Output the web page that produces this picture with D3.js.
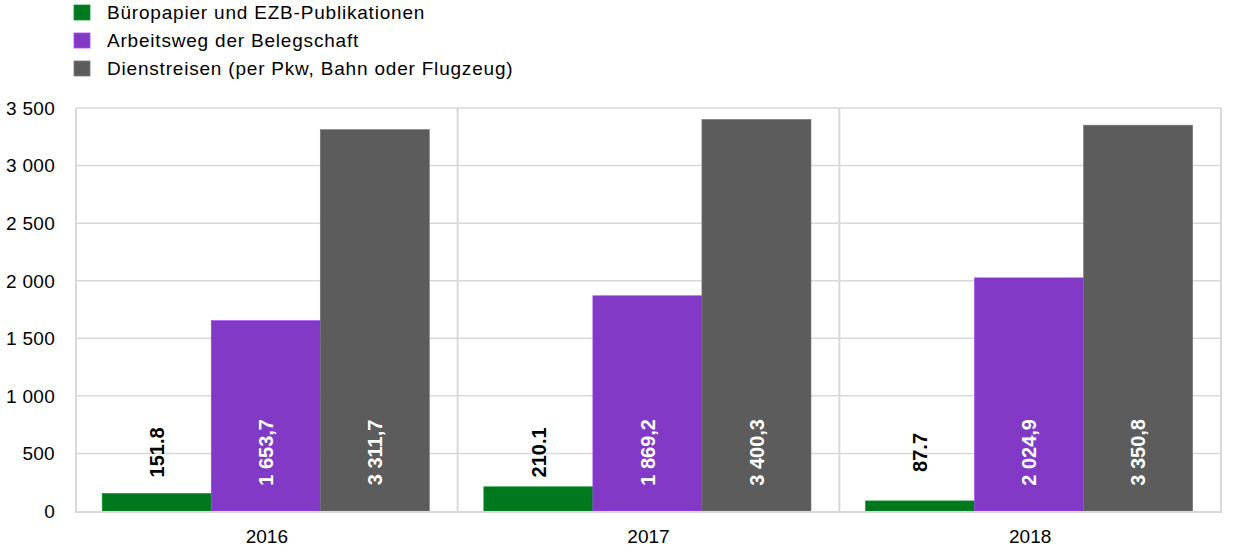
<!DOCTYPE html>
<html><head><meta charset="utf-8">
<script src="https://cdn.jsdelivr.net/npm/d3@7"></script>
<style>
html,body{margin:0;padding:0;background:#fff;}
svg{display:block;font-family:"Liberation Sans",Arial,sans-serif;}
</style></head>
<body><svg id="c" width="1240" height="556"></svg>
<script>
const years = ["2016", "2017", "2018"];
const seriesNames = ["Büropapier und EZB-Publikationen", "Arbeitsweg der Belegschaft", "Dienstreisen (per Pkw, Bahn oder Flugzeug)"];
const seriesColors = ["#00781e", "#8139c6", "#5c5c5c"];
const paper = [151.8, 210.1, 87.7];
const commute = [1653.7, 1869.2, 2024.9];
const travel = [3311.7, 3400.3, 3350.8];
const paperLabels = ["151.8", "210.1", "87.7"];
const commuteLabels = ["1 653,7", "1 869,2", "2 024,9"];
const travelLabels = ["3 311,7", "3 400,3", "3 350,8"];
const yTicks = [0, 500, 1000, 1500, 2000, 2500, 3000, 3500];
const yTickLabels = ["0", "500", "1 000", "1 500", "2 000", "2 500", "3 000", "3 500"];

const svg = d3.select("#c");
const L = 76, R = 1221, T = 108, B = 511;
const x0 = d3.scaleBand().domain(years).range([L, R]).padding(0);
const x1 = d3.scaleBand().domain([0,1,2]).range([0, x0.bandwidth()]).paddingInner(0).paddingOuter(0.25).align(0.48);
const y = d3.scaleLinear().domain([0, 3500]).range([B, T]);

const series = [paper, commute, travel];
const labels = [paperLabels, commuteLabels, travelLabels];

// gridlines
svg.append("g").selectAll("line").data(yTicks.slice(1)).join("line")
  .attr("x1", L).attr("x2", R).attr("y1", d => y(d)).attr("y2", d => y(d))
  .attr("stroke", "#d9d9d9").attr("stroke-width", 1.5);
// group separators
svg.append("g").selectAll("line").data(years.slice(1)).join("line")
  .attr("x1", d => x0(d)).attr("x2", d => x0(d)).attr("y1", T).attr("y2", B)
  .attr("stroke", "#d9d9d9").attr("stroke-width", 2);
// right border
svg.append("line").attr("x1", R).attr("x2", R).attr("y1", T).attr("y2", B+1)
  .attr("stroke", "#d9d9d9").attr("stroke-width", 2);

// bars
const gYear = svg.append("g").selectAll("g").data(years).join("g")
  .attr("transform", d => `translate(${x0(d)},0)`);
gYear.each(function(yr, i) {
  const g = d3.select(this);
  series.forEach((s, k) => {
    g.append("rect")
      .attr("x", x1(k)).attr("width", x1.bandwidth())
      .attr("y", y(s[i])).attr("height", y(0) - y(s[i]))
      .attr("fill", seriesColors[k])
      .attr("stroke", d3.color(seriesColors[k]).brighter(0.6)).attr("stroke-width", 0.6);
  });
  series.forEach((s, k) => {
    const cx = x1(k) + x1.bandwidth() / 2;
    const cy = y(500) - 1;
    g.append("text")
      .attr("transform", `translate(${cx},${cy}) rotate(-90)`)
      .attr("text-anchor", "middle").attr("dy", "0.36em")
      .attr("font-size", 20).attr("font-weight", "bold")
      .attr("fill", k === 0 ? "#000" : "#fff")
      .text(labels[k][i]);
  });
});

// axes lines
svg.append("line").attr("x1", L).attr("x2", L).attr("y1", T).attr("y2", B+1)
  .attr("stroke", "#d9d9d9").attr("stroke-width", 2);
svg.append("line").attr("x1", L-1).attr("x2", R+1).attr("y1", B+1).attr("y2", B+1)
  .attr("stroke", "#d9d9d9").attr("stroke-width", 2);

// y tick labels
svg.append("g").selectAll("text").data(yTicks).join("text")
  .attr("x", 55).attr("y", d => y(d)).attr("dy", "0.36em")
  .attr("text-anchor", "end").attr("font-size", 19).attr("letter-spacing", "0.3px")
  .attr("fill", "#000")
  .text((d, i) => yTickLabels[i]);

// x labels
svg.append("g").selectAll("text").data(years).join("text")
  .attr("x", d => x0(d) + x0.bandwidth() / 2).attr("y", 536).attr("dy", "0.36em")
  .attr("text-anchor", "middle").attr("font-size", 19).attr("fill", "#000")
  .text(d => d);

// legend
const lg = svg.append("g").selectAll("g").data(seriesNames).join("g")
  .attr("transform", (d, i) => `translate(74,${12 + i * 28})`);
lg.append("rect").attr("x", 0).attr("y", -7).attr("width", 16).attr("height", 15)
  .attr("fill", (d, i) => seriesColors[i])
  .attr("stroke", (d, i) => d3.color(seriesColors[i]).brighter(0.8)).attr("stroke-width", 0.8);
lg.append("text").attr("x", 33).attr("y", 0).attr("dy", "0.36em")
  .attr("font-size", 19).attr("letter-spacing", "0.8px").attr("fill", "#000")
  .text(d => d);
</script>
</body></html>
